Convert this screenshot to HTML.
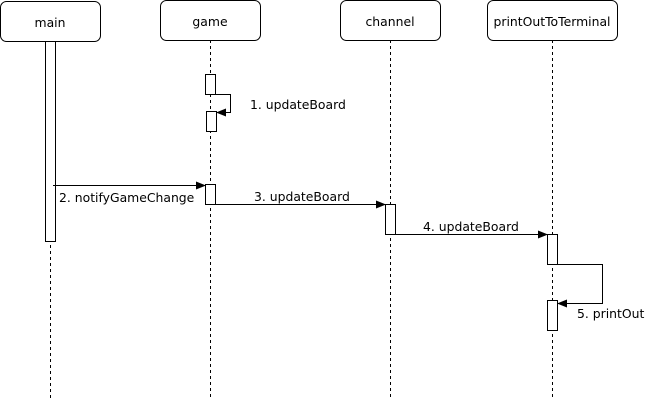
<!DOCTYPE html>
<html><head><style>
body{margin:0;background:#fff;}
text{font-family:"DejaVu Sans","Liberation Sans",sans-serif;font-size:12.4px;fill:#000;}
</style></head><body>
<svg width="645" height="402" xmlns="http://www.w3.org/2000/svg">
<defs><marker id="a" markerWidth="10" markerHeight="8" refX="9" refY="4" orient="auto" markerUnits="userSpaceOnUse"><path d="M0,0 L10,4 L0,8 z" fill="#000"/></marker></defs>
<g stroke="#000" stroke-width="1" fill="none" stroke-dasharray="3,3">
<line x1="50.5" y1="41" x2="50.5" y2="400"/>
<line x1="210.5" y1="40" x2="210.5" y2="400"/>
<line x1="390.5" y1="40" x2="390.5" y2="400"/>
<line x1="552.5" y1="40" x2="552.5" y2="400"/>
</g>
<g stroke="#000" fill="#fff">
<rect x="0.5" y="1.5" width="100" height="40" rx="6"/>
<rect x="160.5" y="0.5" width="100" height="40" rx="6"/>
<rect x="340.5" y="0.5" width="100" height="40" rx="6"/>
<rect x="487.5" y="0.5" width="130" height="40" rx="6"/>
<rect x="45.5" y="41.5" width="10" height="200"/>
<rect x="205.5" y="74.5" width="10" height="20"/>
<rect x="206.5" y="111.5" width="10" height="20"/>
<rect x="205.5" y="184.5" width="10" height="20"/>
<rect x="385.5" y="204.5" width="10" height="30"/>
<rect x="547.5" y="234.5" width="10" height="30"/>
<rect x="547.5" y="300.5" width="10" height="30"/>
</g>
<g stroke="#000" fill="none">
<polyline points="215,94.5 230.5,94.5 230.5,112.5 217,112.5" marker-end="url(#a)"/>
<line x1="53" y1="185.5" x2="205" y2="185.5" marker-end="url(#a)"/>
<line x1="215" y1="204.5" x2="385" y2="204.5" marker-end="url(#a)"/>
<line x1="395" y1="234.5" x2="547" y2="234.5" marker-end="url(#a)"/>
<polyline points="557,264.5 602.5,264.5 602.5,303.5 558,303.5" marker-end="url(#a)"/>
</g>
<text x="50" y="27" text-anchor="middle">main</text>
<text x="210" y="26" text-anchor="middle">game</text>
<text x="390" y="26" text-anchor="middle">channel</text>
<text x="552" y="26" text-anchor="middle">printOutToTerminal</text>
<text x="250" y="109">1. updateBoard</text>
<text x="59" y="202">2. notifyGameChange</text>
<text x="254" y="201">3. updateBoard</text>
<text x="423" y="231">4. updateBoard</text>
<text x="577" y="318">5. printOut</text>
</svg>
</body></html>
